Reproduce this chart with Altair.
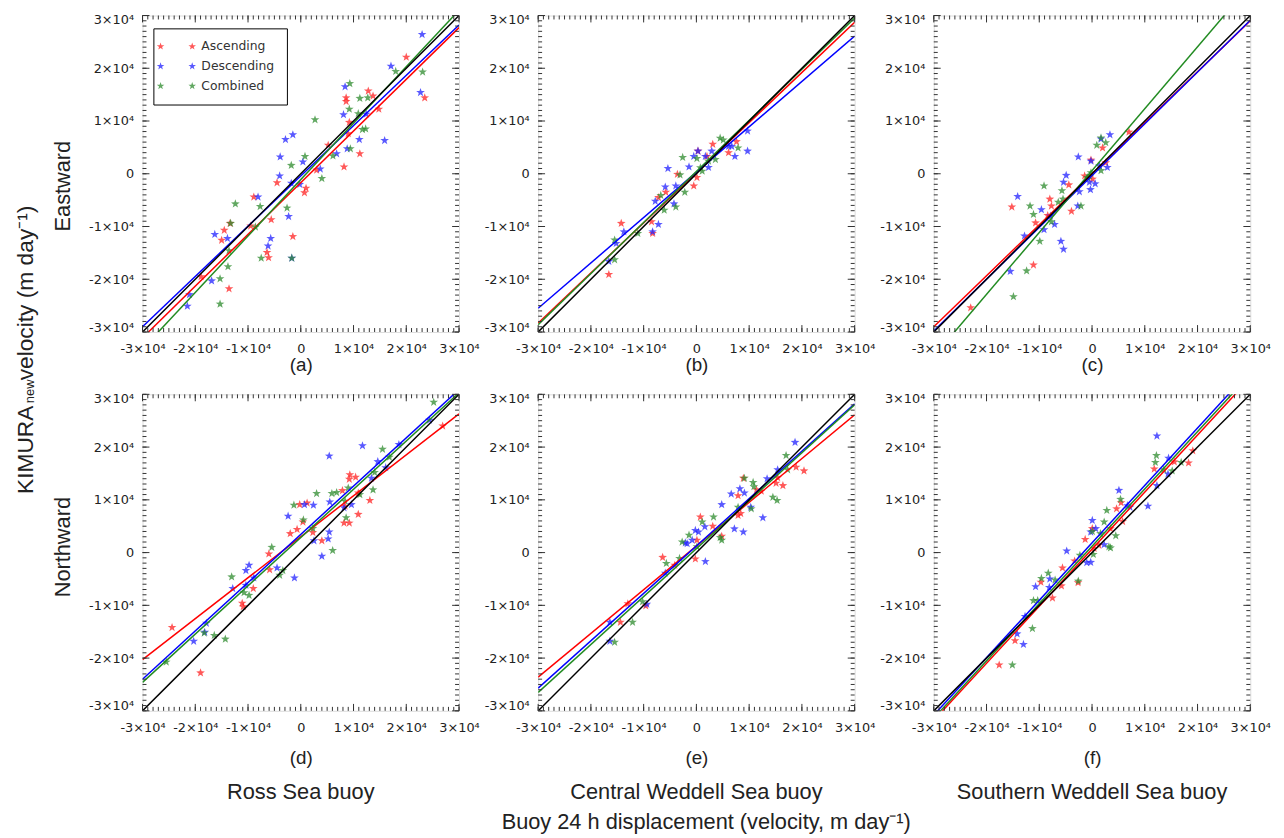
import altair as alt
import pandas as pd

# ---------------- categories / text ----------------
SERIES = ["Ascending", "Descending", "Combined"]
POINT_COLORS = ["#ff2222", "#2222ff", "#2e8b2e"]
FIT_COLORS = ["#ff0000", "#0000ff", "#228b22"]
ONE_TO_ONE_COLOR = "#000000"
PANELS = ["a", "b", "c", "d", "e", "f"]
COLUMN_TITLES = ["Ross Sea buoy", "Central Weddell Sea buoy", "Southern Weddell Sea buoy"]
ROW_TITLES = ["Eastward", "Northward"]
Y_TITLE_MAIN = "KIMURA" + "\u00a0" * 4 + "velocity (m day\u207b\u00b9)"
Y_TITLE_SUB = "new"
X_TITLE_MAIN = "Buoy 24 h displacement (velocity, m day\u207b\u00b9)"

MAJOR_TICKS = [-30000, -20000, -10000, 0, 10000, 20000, 30000]
MINOR_TICKS = list(range(-30000, 30001, 1000))
AXIS_LIMITS = [-30000, 30000]
FIT_X_ENDS = [-30, 30]          # thousand m/day
ONE_TO_ONE_Y = [-30, 30]

# ---------------- scatter values (thousand m/day) ----------------
a_asc_x = [20.0, 23.5, 12.8, 13.7, 8.6, 8.6, 9.2, 9.0, 14.8, 11.2, 8.2, 5.2, 3.0, 1.0, 0.7, -4.5, -8.9, -5.6, -13.4, -14.5, -15.0, -1.5, -6.4, -6.1, -13.6, -18.9, -9.5]
a_asc_y = [22.1, 14.4, 15.7, 14.75, 14.4, 13.7, 9.75, 7.6, 12.25, 3.8, 1.3, 5.4, 0.7, -2.75, -3.6, -1.7, -4.4, -8.7, -9.4, -10.7, -12.6, -11.9, -14.9, -15.9, -21.8, -19.5, -9.9]
a_desc_x = [23.0, 22.7, 17.1, 8.4, 8.1, 12.4, 15.9, 11.1, 8.8, 6.8, 3.7, 0.4, -1.5, -2.9, -3.9, -4.0, -0.2, -1.8, -8.1, -2.3, -5.7, -6.2, -16.3, -13.9, -1.7, -16.9, -21.1, -21.5]
a_desc_y = [26.4, 15.4, 20.4, 16.5, 11.2, 11.3, 6.3, 6.5, 4.75, 3.8, 0.9, 2.25, 7.4, 6.5, 3.2, -0.4, -2.0, -1.8, -4.4, -8.1, -12.25, -13.7, -11.5, -12.25, -16.0, -20.3, -22.9, -25.1]
a_comb_x = [23.1, 18.0, 9.3, 11.2, 12.7, 9.2, 10.9, 11.7, 12.3, 9.4, 2.7, 0.8, 6.1, 4.0, -1.8, -12.4, -7.7, -2.6, -13.3, -7.5, -1.7, -13.8, -15.3, -15.3, -8.6, -13.6]
a_comb_y = [19.3, 19.4, 17.1, 14.3, 14.4, 12.25, 11.4, 8.4, 8.5, 4.75, 10.25, 3.3, 3.4, -0.9, 1.6, -5.7, -6.2, -6.5, -9.4, -16.0, -16.0, -17.6, -19.9, -24.7, -10.1, -14.6]

b_asc_x = [-16.6, -14.25, -8.5, -8.3, -7.2, -5.8, -3.6, -0.5, 0.3, 3.1, 2.0, 6.1, 7.6, 0.1]
b_asc_y = [-19.1, -9.4, -9.1, -11.3, -4.5, -3.5, -0.1, -2.3, 4.3, 5.6, 3.3, 4.0, 6.1, -0.7]
b_desc_x = [-16.6, -13.75, -15.2, -8.3, -7.2, -7.8, -5.4, -5.9, -4.25, -3.9, -1.4, -0.5, 0.3, 1.7, 2.3, 2.9, 6.7, 7.3, 9.7, 9.7, 6.1]
b_desc_y = [-16.6, -11.0, -13.2, -11.0, -9.6, -5.2, 1.0, -2.5, -5.7, -2.3, 1.3, 3.3, 4.3, 3.3, 1.2, 4.3, 5.2, 3.3, 8.1, 4.3, 5.2]
b_comb_x = [-15.5, -15.5, -11.1, -6.75, -6.1, -3.9, -2.6, -2.2, -3.1, 0.1, 0.75, 3.6, 4.5, 7.9, 5.1, 2.3, 1.1]
b_comb_y = [-12.55, -16.3, -11.3, -4.1, -6.9, -6.3, 3.1, -3.5, -0.2, 2.9, 1.15, 2.7, 6.75, 4.9, 6.4, 2.4, 0.5]

c_asc_x = [-23.0, -15.2, -11.1, -10.7, -8.0, -7.7, -8.4, -4.4, -3.9, -1.4, 0.1, -0.2, 2.0, 7.0, 2.6]
c_asc_y = [-25.4, -6.3, -17.3, -9.3, -4.8, -6.1, -7.9, -2.1, -7.1, -0.4, -1.0, 2.6, 4.9, 7.9, 2.1]
c_desc_x = [-15.5, -14.1, -12.8, -9.6, -9.1, -7.1, -5.9, -5.4, -4.9, -5.4, -7.9, -2.7, -2.6, -2.4, -0.5, -0.2, 0.6, -0.3, 1.7, 3.4, 2.9, 1.4]
c_desc_y = [-18.5, -4.3, -11.8, -6.8, -10.6, -9.6, -12.8, -14.3, -0.3, -1.6, -8.0, -6.1, 3.2, -3.4, -1.6, 2.4, -1.9, -3.0, 6.6, 7.4, 1.2, 1.5]
c_comb_x = [-14.9, -12.4, -9.9, -11.75, -11.1, -9.1, -7.7, -5.7, -5.5, -2.1, -0.9, -0.5, -0.2, 0.9, 2.6, 1.7, 1.7, -6.4]
c_comb_y = [-23.3, -18.4, -12.8, -6.1, -7.7, -2.3, -9.1, -3.2, -4.8, -6.1, -0.7, -0.4, 0.2, 5.4, 5.9, 6.8, 0.6, -5.4]

d_asc_x = [26.9, -24.4, -19.0, -11.1, -10.9, -9.0, -6.05, -5.9, -2.0, -0.7, 0.4, -0.2, 1.2, 2.3, 4.0, 7.9, 8.2, 9.2, 9.3, 9.2, 10.4, 10.9, 13.1, 8.4, 10.9]
d_asc_y = [24.0, -14.2, -22.8, -9.6, -10.25, -6.8, -0.25, -3.25, 3.6, 4.4, 5.8, 9.1, 9.4, 3.8, 2.25, 11.75, 5.6, 5.6, 14.75, 13.9, 14.3, 7.25, 9.9, 8.8, 11.3]
d_desc_x = [-20.3, -18.2, -17.9, -12.9, -10.4, -10.4, -9.8, -8.9, -4.5, -1.2, -2.4, 0.7, 2.4, 4.0, 5.4, 5.2, 2.5, 5.5, 5.4, 11.7, 8.2, 9.6, 14.6, 16.1, 18.6, 24.4, 13.4]
d_desc_y = [-16.8, -15.1, -13.4, -6.8, -6.2, -3.4, -2.4, -4.8, -2.9, -4.8, 6.9, 9.1, 9.0, -0.7, 3.9, 2.6, 2.25, 9.6, 18.3, 20.25, 8.5, 9.1, 17.25, 16.1, 20.5, 25.1, 14.1]
d_comb_x = [-25.5, -16.4, -14.3, -18.3, -13.1, -10.75, -9.8, -5.5, -4.0, -3.4, -1.3, 0.5, 2.3, 3.0, 5.9, 6.8, 6.05, 8.6, 9.0, 11.2, 13.7, 15.5, 16.8, 14.0, 25.2, 8.4]
d_comb_y = [-20.75, -15.7, -16.4, -15.25, -4.6, -7.6, -8.1, 1.0, -4.3, -3.4, 9.0, 6.2, 4.6, 11.2, 11.2, 11.4, 0.4, 6.6, 12.25, 11.0, 11.9, 19.6, 18.1, 15.2, 28.5, 9.75]

e_asc_x = [-14.4, -13.0, -9.6, -6.4, -4.1, -0.2, 0.1, 0.75, 3.1, 4.8, 7.9, 7.9, 8.4, 8.9, 12.3, 15.1, 15.4, 16.4, 18.9, 20.4, 11.4]
e_asc_y = [-13.2, -9.7, -10.1, -0.9, -2.4, -1.2, 2.35, 6.75, 5.0, 3.1, 10.8, 7.05, 7.4, 14.1, 11.65, 13.15, 14.2, 12.7, 16.2, 15.5, 11.9]
e_desc_x = [-16.4, -16.4, -5.9, -9.4, -1.75, -0.2, 0.4, 1.6, 1.7, 4.8, 6.6, 7.2, 8.9, 8.25, 9.1, 10.3, 12.6, 13.4, 15.4, 18.7, -0.8, -2.1]
e_desc_y = [-13.2, -16.8, -3.9, -9.8, 1.7, 4.2, 3.9, 4.9, -1.7, 9.1, 11.1, 4.5, 3.9, 12.1, 11.3, 8.6, 6.6, 14.0, 15.7, 20.9, 2.35, 1.85]
e_comb_x = [-15.5, -12.1, -10.2, -5.7, -3.2, -2.7, -1.4, 1.1, 3.25, 4.8, 4.5, 9.1, 10.75, 10.9, 10.4, 14.5, 15.3, 17.0, 17.3, 7.9, 0.1]
e_comb_y = [-17.0, -13.2, -9.3, -2.05, -1.1, 2.0, 3.3, 5.8, 6.75, 2.35, 2.85, 14.1, 13.3, 12.5, 8.3, 10.5, 9.9, 18.4, 15.7, 8.6, 1.1]

f_asc_x = [-17.6, -14.6, -9.7, -7.5, -5.8, -5.6, -3.3, -1.3, -2.65, 0.05, 0.4, 1.3, 3.5, 4.65, 5.5, 5.8, 11.8, 15.6, 18.3, 19.1]
f_asc_y = [-21.3, -16.7, -5.6, -8.6, -6.3, -2.9, -1.6, 2.5, -5.7, 4.55, 0.8, 1.4, 4.55, 8.3, 9.45, 5.9, 15.85, 17.2, 17.0, 19.3]
f_desc_x = [-14.2, -13.0, -12.7, -10.7, -8.1, -8.0, -4.8, -1.0, -0.25, 0.05, 0.7, -0.25, 2.3, 5.1, 6.7, 10.6, 12.3, 12.3, 14.5, 14.4, 7.2]
f_desc_y = [-15.4, -17.4, -12.1, -6.45, -6.6, -5.0, 0.3, -1.9, -1.85, 6.1, 4.55, 3.9, 1.5, 11.8, 8.9, 8.8, 22.1, 12.7, 17.9, 14.9, 8.6]
f_comb_x = [-15.1, -11.3, -11.1, -10.3, -9.6, -8.3, -7.0, -2.6, -2.3, 0.25, 0.05, 2.8, 2.3, 3.2, 4.5, 5.4, 12.2, 12.0, 13.6, 15.2, 16.9, 3.5, 1.6]
f_comb_y = [-21.3, -14.4, -9.1, -9.1, -4.9, -3.9, -5.2, -5.4, -0.5, -0.35, 4.0, 8.0, 5.8, 1.1, 3.2, 10.1, 18.4, 17.1, 15.7, 15.5, 17.1, 0.9, 3.6]

# ---------------- regression lines: y at x=-30k and x=+30k (Asc, Desc, Comb) ----------------
a_fit_left = [-31.1, -29.0, -33.2]
a_fit_right = [27.7, 28.2, 31.0]
b_fit_left = [-28.3, -25.5, -28.6]
b_fit_right = [28.7, 26.1, 29.5]
c_fit_left = [-29.0, -29.8, -34.6]
c_fit_right = [29.0, 29.1, 35.8]
d_fit_left = [-20.3, -24.0, -24.6]
d_fit_right = [26.3, 30.9, 30.3]
e_fit_left = [-23.6, -25.7, -26.5]
e_fit_right = [26.1, 28.2, 28.0]
f_fit_left = [-31.8, -30.8, -31.4]
f_fit_right = [33.1, 34.5, 33.8]

POINTS = {
    "a": [(a_asc_x, a_asc_y), (a_desc_x, a_desc_y), (a_comb_x, a_comb_y)],
    "b": [(b_asc_x, b_asc_y), (b_desc_x, b_desc_y), (b_comb_x, b_comb_y)],
    "c": [(c_asc_x, c_asc_y), (c_desc_x, c_desc_y), (c_comb_x, c_comb_y)],
    "d": [(d_asc_x, d_asc_y), (d_desc_x, d_desc_y), (d_comb_x, d_comb_y)],
    "e": [(e_asc_x, e_asc_y), (e_desc_x, e_desc_y), (e_comb_x, e_comb_y)],
    "f": [(f_asc_x, f_asc_y), (f_desc_x, f_desc_y), (f_comb_x, f_comb_y)],
}
FITS = {
    "a": (a_fit_left, a_fit_right), "b": (b_fit_left, b_fit_right), "c": (c_fit_left, c_fit_right),
    "d": (d_fit_left, d_fit_right), "e": (e_fit_left, e_fit_right), "f": (f_fit_left, f_fit_right),
}

# ---------------- tables ----------------
prow = []
for p, groups in POINTS.items():
    for s, (xs, ys) in zip(SERIES, groups):
        for xv, yv in zip(xs, ys):
            prow.append({"panel": p, "series": s, "x": xv * 1000, "y": yv * 1000})
points_df = pd.DataFrame(prow)

lrow = []
for p, (left, right) in FITS.items():
    for s, col, yl, yr in zip(SERIES, FIT_COLORS, left, right):
        lrow.append({"panel": p, "line": s, "color": col, "x": FIT_X_ENDS[0] * 1000, "y": yl * 1000})
        lrow.append({"panel": p, "line": s, "color": col, "x": FIT_X_ENDS[1] * 1000, "y": yr * 1000})
    for xv, yv in zip(FIT_X_ENDS, ONE_TO_ONE_Y):
        lrow.append({"panel": p, "line": "1:1", "color": ONE_TO_ONE_COLOR, "x": xv * 1000, "y": yv * 1000})
lines_df = pd.DataFrame(lrow)

ticks_df = pd.DataFrame({"value": MAJOR_TICKS + MINOR_TICKS,
                         "kind": ["major"] * len(MAJOR_TICKS) + ["minor"] * len(MINOR_TICKS)})

# ---------------- styling ----------------
STAR = ("M0,-1L0.235,-0.324L0.951,-0.309L0.38,0.124L0.588,0.809L0,0.4L-0.588,0.809"
        "L-0.38,0.124L-0.951,-0.309L-0.235,-0.324Z")
STAR2 = STAR + (" M8,-1L8.235,-0.324L8.951,-0.309L8.38,0.124L8.588,0.809L8,0.4L7.412,0.809"
                "L7.62,0.124L7.049,-0.309L7.765,-0.324Z")
LABEL_EXPR = ("datum.value == 0 ? '0' : (datum.value < 0 ? '-' : '') + "
              "abs(datum.value) / 10000 + '\u00d710\u2074'")
TICK_FONT = "DejaVu Sans"
TITLE_FONT = "Liberation Sans"
TXT = "#222222"
TICK_COLOR = "#333333"
TICK_LEN = {"major": 7, "minor": 4}


def tick_layers(sx, sy, xa, ya):
    out = []
    lo, hi = AXIS_LIMITS
    for kind, n in TICK_LEN.items():
        base = alt.Chart(ticks_df[ticks_df.kind == kind])
        rule = dict(color=TICK_COLOR, strokeWidth=1)
        out.append(base.mark_rule(y2Offset=-n, **rule).encode(
            x=alt.X("value:Q", scale=sx, axis=xa),
            y=alt.YDatum(lo, scale=sy, axis=ya), y2=alt.Y2Datum(lo)))
        out.append(base.mark_rule(y2Offset=n, **rule).encode(
            x=alt.X("value:Q", scale=sx, axis=xa),
            y=alt.YDatum(hi, scale=sy, axis=ya), y2=alt.Y2Datum(hi)))
        out.append(base.mark_rule(x2Offset=n, **rule).encode(
            y=alt.Y("value:Q", scale=sy, axis=ya),
            x=alt.XDatum(lo, scale=sx, axis=xa), x2=alt.X2Datum(lo)))
        out.append(base.mark_rule(x2Offset=-n, **rule).encode(
            y=alt.Y("value:Q", scale=sy, axis=ya),
            x=alt.XDatum(hi, scale=sx, axis=xa), x2=alt.X2Datum(hi)))
    return out


def make_panel(key, idx):
    row, col = divmod(idx, 3)
    pts = points_df[points_df.panel == key]
    lns = lines_df[lines_df.panel == key]
    sx = alt.Scale(domain=AXIS_LIMITS, nice=False, zero=False)
    sy = alt.Scale(domain=AXIS_LIMITS, nice=False, zero=False)

    x_main = alt.Axis(orient="bottom", values=MAJOR_TICKS, labelExpr=LABEL_EXPR, ticks=False, tickSize=0,
                      domain=False, grid=False, labelFont=TICK_FONT, labelFontSize=13, labelColor=TXT,
                      labelPadding=11, labelOverlap=False, labelFlush=False, title=f"({key})",
                      titleFont=TITLE_FONT, titleFontSize=19, titleFontWeight="normal", titleColor=TXT,
                      titlePadding=0 if row == 0 else 14)
    y_kw = dict(orient="left", values=MAJOR_TICKS, labelExpr=LABEL_EXPR, ticks=False, tickSize=0,
                domain=False, grid=False, labelFont=TICK_FONT, labelFontSize=13, labelColor=TXT,
                labelPadding=9, labelOverlap=False, labelFlush=True, labelFlushOffset=2)
    if col == 0:
        y_main = alt.Axis(title=ROW_TITLES[row], titleFont=TITLE_FONT, titleFontSize=22,
                          titleFontWeight="normal", titleColor=TXT, titlePadding=14,
                          titleY=172 if row == 0 else 154, **y_kw)
    else:
        y_main = alt.Axis(title=None, **y_kw)

    legend = None
    if key == "a":
        legend = alt.Legend(orient="none", legendX=11, legendY=13, title=None, symbolType=STAR2,
                            symbolSize=64, symbolOpacity=0.75, symbolStrokeWidth=0, symbolOffset=-11,
                            labelFont=TICK_FONT, labelFontSize=12.5, labelColor="#333333",
                            labelOffset=35, strokeColor="black", fillColor="white", padding=12,
                            rowPadding=7, labelLimit=300)

    pts_layer = alt.Chart(pts).mark_point(filled=True, shape=STAR, size=85, opacity=0.75).encode(
        x=alt.X("x:Q", scale=sx, axis=x_main),
        y=alt.Y("y:Q", scale=sy, axis=y_main),
        color=alt.Color("series:N", scale=alt.Scale(domain=SERIES, range=POINT_COLORS), legend=legend),
    )
    line_layer = alt.Chart(lns).mark_line(clip=True, strokeWidth=1.5).encode(
        x=alt.X("x:Q", scale=sx, axis=x_main),
        y=alt.Y("y:Q", scale=sy, axis=y_main),
        stroke=alt.Stroke("color:N", scale=None),
        detail="line:N",
    )

    props = dict(width=320, height=320)
    if row == 1:
        props["title"] = alt.Title(COLUMN_TITLES[col], orient="bottom", font=TITLE_FONT, fontSize=22,
                                   fontWeight="normal", color=TXT, offset=15)
    return alt.layer(pts_layer, line_layer, *tick_layers(sx, sy, x_main, y_main)).properties(**props)


panels = [make_panel(k, i) for i, k in enumerate(PANELS)]
grid = alt.concat(*panels, columns=3, spacing={"row": 63, "column": 80}, bounds="flush",
                  title=alt.Title(Y_TITLE_MAIN, orient="left", anchor="middle", font=TITLE_FONT,
                                  fontSize=23, fontWeight="normal", color=TXT, offset=14, dx=59)
                  ).resolve_scale(color="independent")
mid = alt.vconcat(grid, title=alt.Title(Y_TITLE_SUB, orient="left", anchor="middle", font=TITLE_FONT,
                                        fontSize=13, fontWeight="normal", color=TXT, offset=0,
                                        dx=17, dy=22)).resolve_scale(color="independent")
chart = alt.vconcat(mid, title=alt.Title(X_TITLE_MAIN, orient="bottom", anchor="middle", font=TITLE_FONT,
                                         fontSize=22, fontWeight="normal", color=TXT, offset=9, dx=64)
                    ).resolve_scale(color="independent").properties(
    padding={"left": 6, "top": 0, "right": 5, "bottom": 2}
).configure_view(stroke="black", strokeWidth=1).configure(background="white")

chart.save("out.html", embed_options={"renderer": "svg", "actions": False})
